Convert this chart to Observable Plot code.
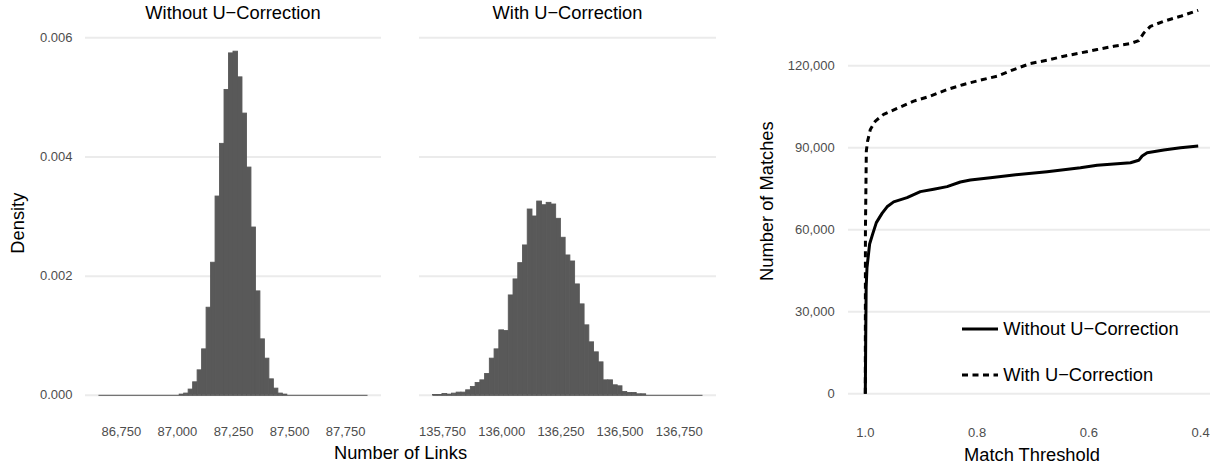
<!DOCTYPE html>
<html><head><meta charset="utf-8">
<script src="https://cdn.jsdelivr.net/npm/d3@7"></script>
<script src="https://cdn.jsdelivr.net/npm/@observablehq/plot@0.6"></script>
<style>
body{margin:0;background:#fff}
#fig{position:relative;width:1210px;height:465px;overflow:hidden;font-family:"Liberation Sans",Arial,Helvetica,sans-serif;background:#fff}
.pl{position:absolute;top:0}
.t{position:absolute;white-space:nowrap;font-size:18.3px;line-height:18.3px;color:#000;text-align:center;width:400px;height:18.3px}
.r{transform:rotate(-90deg);transform-origin:50% 50%}
.lg{position:absolute;white-space:nowrap;font-size:18.3px;line-height:18.3px;color:#000}
</style></head><body><div id="fig"></div><script>
const FONT = '"Liberation Sans", Arial, Helvetica, sans-serif';

// ---- Histograms: density of number of links (bin width 20) ----
const binWidth = 20;
const panelTitles = ["Without U\u2212Correction", "With U\u2212Correction"];

const withoutBinStart = [87010, 87030, 87050, 87070, 87090, 87110, 87130, 87150, 87170, 87190, 87210, 87230,
  87250, 87270, 87290, 87310, 87330, 87350, 87370, 87390, 87410, 87430, 87450, 87470];
const withoutDensity = [0.000012, 0.000029, 0.000096, 0.000218, 0.000419, 0.000771, 0.00147, 0.002225, 0.003336, 0.00422, 0.005125, 0.005738,
  0.005767, 0.005336, 0.004728, 0.003822, 0.002816, 0.001744, 0.000939, 0.000615, 0.000268, 0.000112, 0.000029, 0.000012];
const withoutRange = [86650, 87850];

const withBinStart = [135710, 135730, 135750, 135770, 135790, 135810, 135830, 135850, 135870, 135890, 135910, 135930,
  135950, 135970, 135990, 136010, 136030, 136050, 136070, 136090, 136110, 136130, 136150, 136170,
  136190, 136210, 136230, 136250, 136270, 136290, 136310, 136330, 136350, 136370, 136390, 136410,
  136430, 136450, 136470, 136490, 136510, 136530, 136550, 136570, 136590];
const withDensity = [0.000005, 0.000005, 0.000022, 0.000012, 0.000028, 0.000045, 0.000045, 0.000084, 0.000139, 0.000206, 0.000251, 0.000357,
  0.000615, 0.000771, 0.00109, 0.001078, 0.001676, 0.001945, 0.002218, 0.002515, 0.003118, 0.003001, 0.003252, 0.00319,
  0.00323, 0.003202, 0.002962, 0.002644, 0.002347, 0.002246, 0.001861, 0.001526, 0.001174, 0.000889, 0.000721, 0.000553,
  0.000251, 0.000251, 0.000168, 0.000151, 0.000055, 0.000039, 0.000039, 0.000017, 0.000017];
const withRange = [135710, 136850];

const densityTicks = [0, 0.002, 0.004, 0.006];
const withoutLinkTicks = [86750, 87000, 87250, 87500, 87750];
const withLinkTicks = [135750, 136000, 136250, 136500, 136750];

// ---- Line chart: number of matches vs match threshold ----
const seriesNames = ["Without U\u2212Correction", "With U\u2212Correction"];
const thresholdWithout = [1.0, 0.9993, 0.9985, 0.997, 0.9923, 0.9869, 0.9803, 0.9701, 0.9611, 0.9493, 0.9253, 0.9015, 0.8777, 0.8537,
  0.8299, 0.812, 0.7762, 0.7345, 0.6747, 0.6151, 0.5851, 0.5255, 0.5107, 0.5046, 0.4956, 0.4659, 0.436, 0.4043];
const matchesWithout = [0, 20000, 38900, 46200, 54800, 58400, 62600, 66000, 68400, 70190, 71750, 73940, 74820, 75770,
  77480, 78210, 79050, 80040, 81240, 82700, 83580, 84530, 85400, 86970, 88180, 89160, 90000, 90620];
const thresholdWith = [1.0, 0.9998, 0.9982, 0.9959, 0.991, 0.982, 0.9672, 0.9432, 0.9135, 0.8836, 0.8537, 0.824, 0.7941, 0.7642,
  0.7345, 0.7046, 0.6747, 0.645, 0.6151, 0.5851, 0.5554, 0.5255, 0.5107, 0.5017, 0.4898, 0.4659, 0.436, 0.4043];
const matchesWith = [0, 59600, 88800, 92450, 96700, 99750, 102200, 104400, 107050, 108870, 111300, 113140, 114710, 116170,
  118600, 120800, 122000, 123470, 124670, 125910, 127120, 128100, 129200, 131970, 134400, 136250, 138070, 140260];
const thresholdTicks = [1.0, 0.8, 0.6, 0.4];
const matchTicks = [0, 30000, 60000, 90000, 120000];

const fig = document.getElementById("fig");
const GRID = "#EBEBEB", BAR = "#595959", TICK = "#4D4D4D";

const maxDensity = d3.max([...withoutDensity, ...withDensity]);
const yDomain = [-0.05 * maxDensity, 1.05 * maxDensity];
const expand = r => [r[0] - 0.05 * (r[1] - r[0]), r[1] + 0.05 * (r[1] - r[0])];

function histogram(starts, dens, range, ticks, left, width, mLeft, mRight, showY) {
  const bins = starts.map((s, i) => ({x1: s, x2: s + binWidth, density: dens[i]}));
  const svg = Plot.plot({
    width, height: 465,
    marginLeft: mLeft, marginRight: mRight, marginTop: 34, marginBottom: 53,
    style: {fontFamily: FONT, fontSize: "13px", color: TICK, background: "transparent"},
    x: {domain: expand(range), ticks, tickFormat: d3.format(","), tickSize: 0, tickPadding: 14, label: null},
    y: showY
      ? {domain: yDomain, ticks: densityTicks, tickFormat: d3.format(".3f"), tickSize: 0, tickPadding: 13, label: null}
      : {domain: yDomain, axis: null},
    marks: [
      Plot.ruleY(densityTicks, {stroke: GRID, strokeWidth: 2}),
      Plot.ruleY([range], {x1: d => d[0], x2: d => d[1], y: 0, stroke: BAR, strokeWidth: 1}),
      Plot.rectY(bins, {x1: "x1", x2: "x2", y: "density", fill: BAR, stroke: BAR, strokeWidth: 0.9})
    ]
  });
  svg.classList.add("pl");
  svg.style.left = left + "px";
  fig.appendChild(svg);
}

histogram(withoutBinStart, withoutDensity, withoutRange, withoutLinkTicks, 0, 390, 85, 9, true);
histogram(withBinStart, withDensity, withRange, withLinkTicks, 390, 340, 29, 14, false);

const lineWithout = thresholdWithout.map((t, i) => ({t, m: matchesWithout[i]}));
const lineWith = thresholdWith.map((t, i) => ({t, m: matchesWith[i]}));
const lineSvg = Plot.plot({
  width: 480, height: 465,
  marginLeft: 118, marginRight: 0, marginTop: 0, marginBottom: 52,
  style: {fontFamily: FONT, fontSize: "13px", color: TICK, background: "transparent"},
  x: {domain: [1.0301, 0.3823], ticks: thresholdTicks, tickFormat: d3.format(".1f"), tickSize: 0, tickPadding: 14, label: null},
  y: {domain: [-7200, 143850], ticks: matchTicks, tickFormat: d3.format(","), tickSize: 0, tickPadding: 13.7, label: null},
  marks: [
    Plot.ruleY(matchTicks, {stroke: GRID, strokeWidth: 2}),
    Plot.line(lineWithout, {x: "t", y: "m", stroke: "#000", strokeWidth: 3, strokeLinecap: "butt", strokeLinejoin: "round"}),
    Plot.line(lineWith, {x: "t", y: "m", stroke: "#000", strokeWidth: 3, strokeDasharray: "6,4.5", strokeLinecap: "butt", strokeLinejoin: "round"})
  ]
});
lineSvg.classList.add("pl");
lineSvg.style.left = "730px";
fig.appendChild(lineSvg);

// ---- Text: strip titles and axis titles ----
function label(text, cx, cy, rotate) {
  const d = document.createElement("div");
  d.className = "t" + (rotate ? " r" : "");
  d.textContent = text;
  d.style.left = (cx - 200) + "px";
  d.style.top = (cy - 9.15) + "px";
  fig.appendChild(d);
}
label(panelTitles[0], 233, 13.3);
label(panelTitles[1], 567.5, 13.3);
label("Number of Links", 400.5, 453.5);
label("Match Threshold", 1032, 455.5);
label("Density", 17.5, 223, true);
label("Number of Matches", 766.7, 201, true);

// ---- Legend ----
[[seriesNames[0], null, 329], [seriesNames[1], "6,4.5", 375]].forEach(([name, dash, cy]) => {
  const ns = "http://www.w3.org/2000/svg";
  const s = document.createElementNS(ns, "svg");
  s.setAttribute("width", 40); s.setAttribute("height", 10);
  s.style.position = "absolute"; s.style.left = "961px"; s.style.top = (cy - 5) + "px";
  const l = document.createElementNS(ns, "line");
  l.setAttribute("x1", 1); l.setAttribute("x2", 37); l.setAttribute("y1", 5); l.setAttribute("y2", 5);
  l.setAttribute("stroke", "#000"); l.setAttribute("stroke-width", 3);
  if (dash) l.setAttribute("stroke-dasharray", dash);
  s.appendChild(l);
  fig.appendChild(s);
  const t = document.createElement("div");
  t.className = "lg";
  t.textContent = name;
  t.style.left = "1003.3px";
  t.style.top = (cy - 9.15) + "px";
  fig.appendChild(t);
});
</script></body></html>
